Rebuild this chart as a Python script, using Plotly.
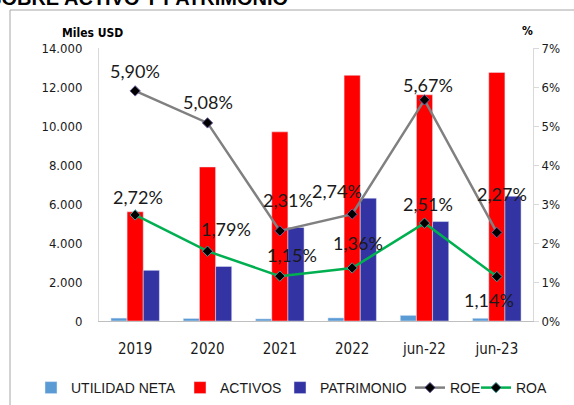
import plotly.graph_objects as go

categories = ["2019", "2020", "2021", "2022", "jun-22", "jun-23"]
utilidad_neta = [150, 130, 110, 160, 290, 140]
activos = [5600, 7900, 9700, 12600, 11600, 12750]
patrimonio = [2600, 2800, 4800, 6300, 5100, 6400]
roe = [5.90, 5.08, 2.31, 2.74, 5.67, 2.27]
roa = [2.72, 1.79, 1.15, 1.36, 2.51, 1.14]
left_ticks = [0, 2000, 4000, 6000, 8000, 10000, 12000, 14000]
right_ticks = [0, 1, 2, 3, 4, 5, 6, 7]
right_tick_labels = ["0%", "1%", "2%", "3%", "4%", "5%", "6%", "7%"]

# label offsets (pixels) for data labels
roe_dx = [0, 0, 8, -15, 3, 5]
roe_dy = [20, 21, 31, 23, 15, 38]
roa_dx = [3, 18, 12, 6, 3, -8]
roa_dy = [18, 22, 21, 25, 19, -23]

# legend entry positions (px from left of page)
legend_px = [31, 180, 280, 410, 476]

LBL_FONT = "Lato, Liberation Sans, sans-serif"
TICK_FONT = "DejaVu Sans Condensed, Liberation Sans Narrow, Liberation Sans, sans-serif"
LEG_FONT = "Liberation Sans, sans-serif"

W, H = 574, 405

fig = go.Figure()
fig.add_bar(x=categories, y=utilidad_neta, name="UTILIDAD NETA", marker_color="#5B9BD5",
            legend="legend")
fig.add_bar(x=categories, y=activos, name="ACTIVOS", marker_color="#FF0000", legend="legend2")
fig.add_bar(x=categories, y=patrimonio, name="PATRIMONIO", marker_color="#3333A3",
            legend="legend3")
fig.add_scatter(x=categories, y=roe, name="ROE", yaxis="y2", mode="lines+markers",
                legend="legend4",
                line=dict(color="#808080", width=2.5),
                marker=dict(symbol="diamond", size=8, color="black",
                            line=dict(color="#7060A0", width=1)))
fig.add_scatter(x=categories, y=roa, name="ROA", yaxis="y2", mode="lines+markers",
                legend="legend5",
                line=dict(color="#00B050", width=2.5),
                marker=dict(symbol="diamond", size=8, color="black",
                            line=dict(color="#40A0A0", width=1)))

def fmt(v):
    return f"{v:.2f}".replace(".", ",") + "%"

for vals, dxs, dys in ((roe, roe_dx, roe_dy), (roa, roa_dx, roa_dy)):
    for i, (v, dx, dy) in enumerate(zip(vals, dxs, dys)):
        fig.add_annotation(x=i, y=v, yref="y2", xref="x", text=fmt(v), showarrow=False,
                           xshift=dx, yshift=dy,
                           font=dict(family=LBL_FONT, size=18, color="#1a1a1a"))

# axis titles (positioned relative to the plot top)
fig.add_annotation(xref="paper", yref="paper", x=(92 - 99) / 434, y=1, yshift=15,
                   text="<b>Miles USD</b>", showarrow=False, xanchor="center", yanchor="middle",
                   font=dict(family=TICK_FONT, size=12, color="black"))
fig.add_annotation(xref="paper", yref="paper", x=(527 - 99) / 434, y=1, yshift=17,
                   text="<b>%</b>", showarrow=False, xanchor="center", yanchor="middle",
                   font=dict(family=TICK_FONT, size=12, color="black"))
# cut-off title at top
fig.add_annotation(xref="paper", yref="paper", x=(290 - 99) / 434, y=1, yshift=37,
                   text="<b>RENTABILIDAD SOBRE ACTIVO Y PATRIMONIO</b>", showarrow=False,
                   xanchor="right", yanchor="bottom",
                   font=dict(family="Liberation Sans, sans-serif", size=20, color="black"))

fig.add_shape(type="rect", xref="paper", yref="paper", ysizemode="pixel", yanchor=1,
              x0=(10 - 99) / 434, x1=1.3, y0=-600, y1=38,
              line=dict(color="#A6A6A6", width=1), fillcolor="rgba(0,0,0,0)", layer="below")

legends = {}
for k, px in enumerate(legend_px):
    key = "legend" if k == 0 else f"legend{k + 1}"
    legends[key] = dict(orientation="h", xref="container", yref="container",
                        x=px / W, xanchor="left", y=(H - 388) / H, yanchor="middle",
                        font=dict(family=LEG_FONT, size=14, color="#1a1a1a"),
                        itemwidth=30, bgcolor="rgba(0,0,0,0)")

fig.update_layout(
    width=W, height=H,
    margin=dict(l=99, r=41, t=48, b=84),
    paper_bgcolor="white", plot_bgcolor="white",
    separators=",.",
    barmode="group", bargap=0.33, bargroupgap=0,
    showlegend=True,
    xaxis=dict(type="category", range=[-0.5, 5.5], showline=True, linecolor="#BFBFBF",
               linewidth=1, showgrid=False, ticks="", ticklabelstandoff=14,
               tickfont=dict(family=TICK_FONT, size=15, color="#1a1a1a")),
    yaxis=dict(range=[0, 14000], tickvals=left_ticks, tickformat=",d",
               showline=True, linecolor="#D9D9D9", linewidth=1, showgrid=False,
               zeroline=False, ticks="", ticklabelstandoff=13,
               tickfont=dict(family=TICK_FONT, size=13, color="#1a1a1a")),
    yaxis2=dict(range=[0, 7], tickvals=right_ticks, ticktext=right_tick_labels,
                overlaying="y", side="right", showline=True, linecolor="#D9D9D9",
                linewidth=1, showgrid=False, zeroline=False, ticks="outside", ticklen=5,
                tickcolor="#D9D9D9",
                tickfont=dict(family=TICK_FONT, size=13, color="#1a1a1a")),
    **legends,
)

fig.write_html("out.html", config={"displayModeBar": False},
               post_script="document.body.style.margin='0';")
